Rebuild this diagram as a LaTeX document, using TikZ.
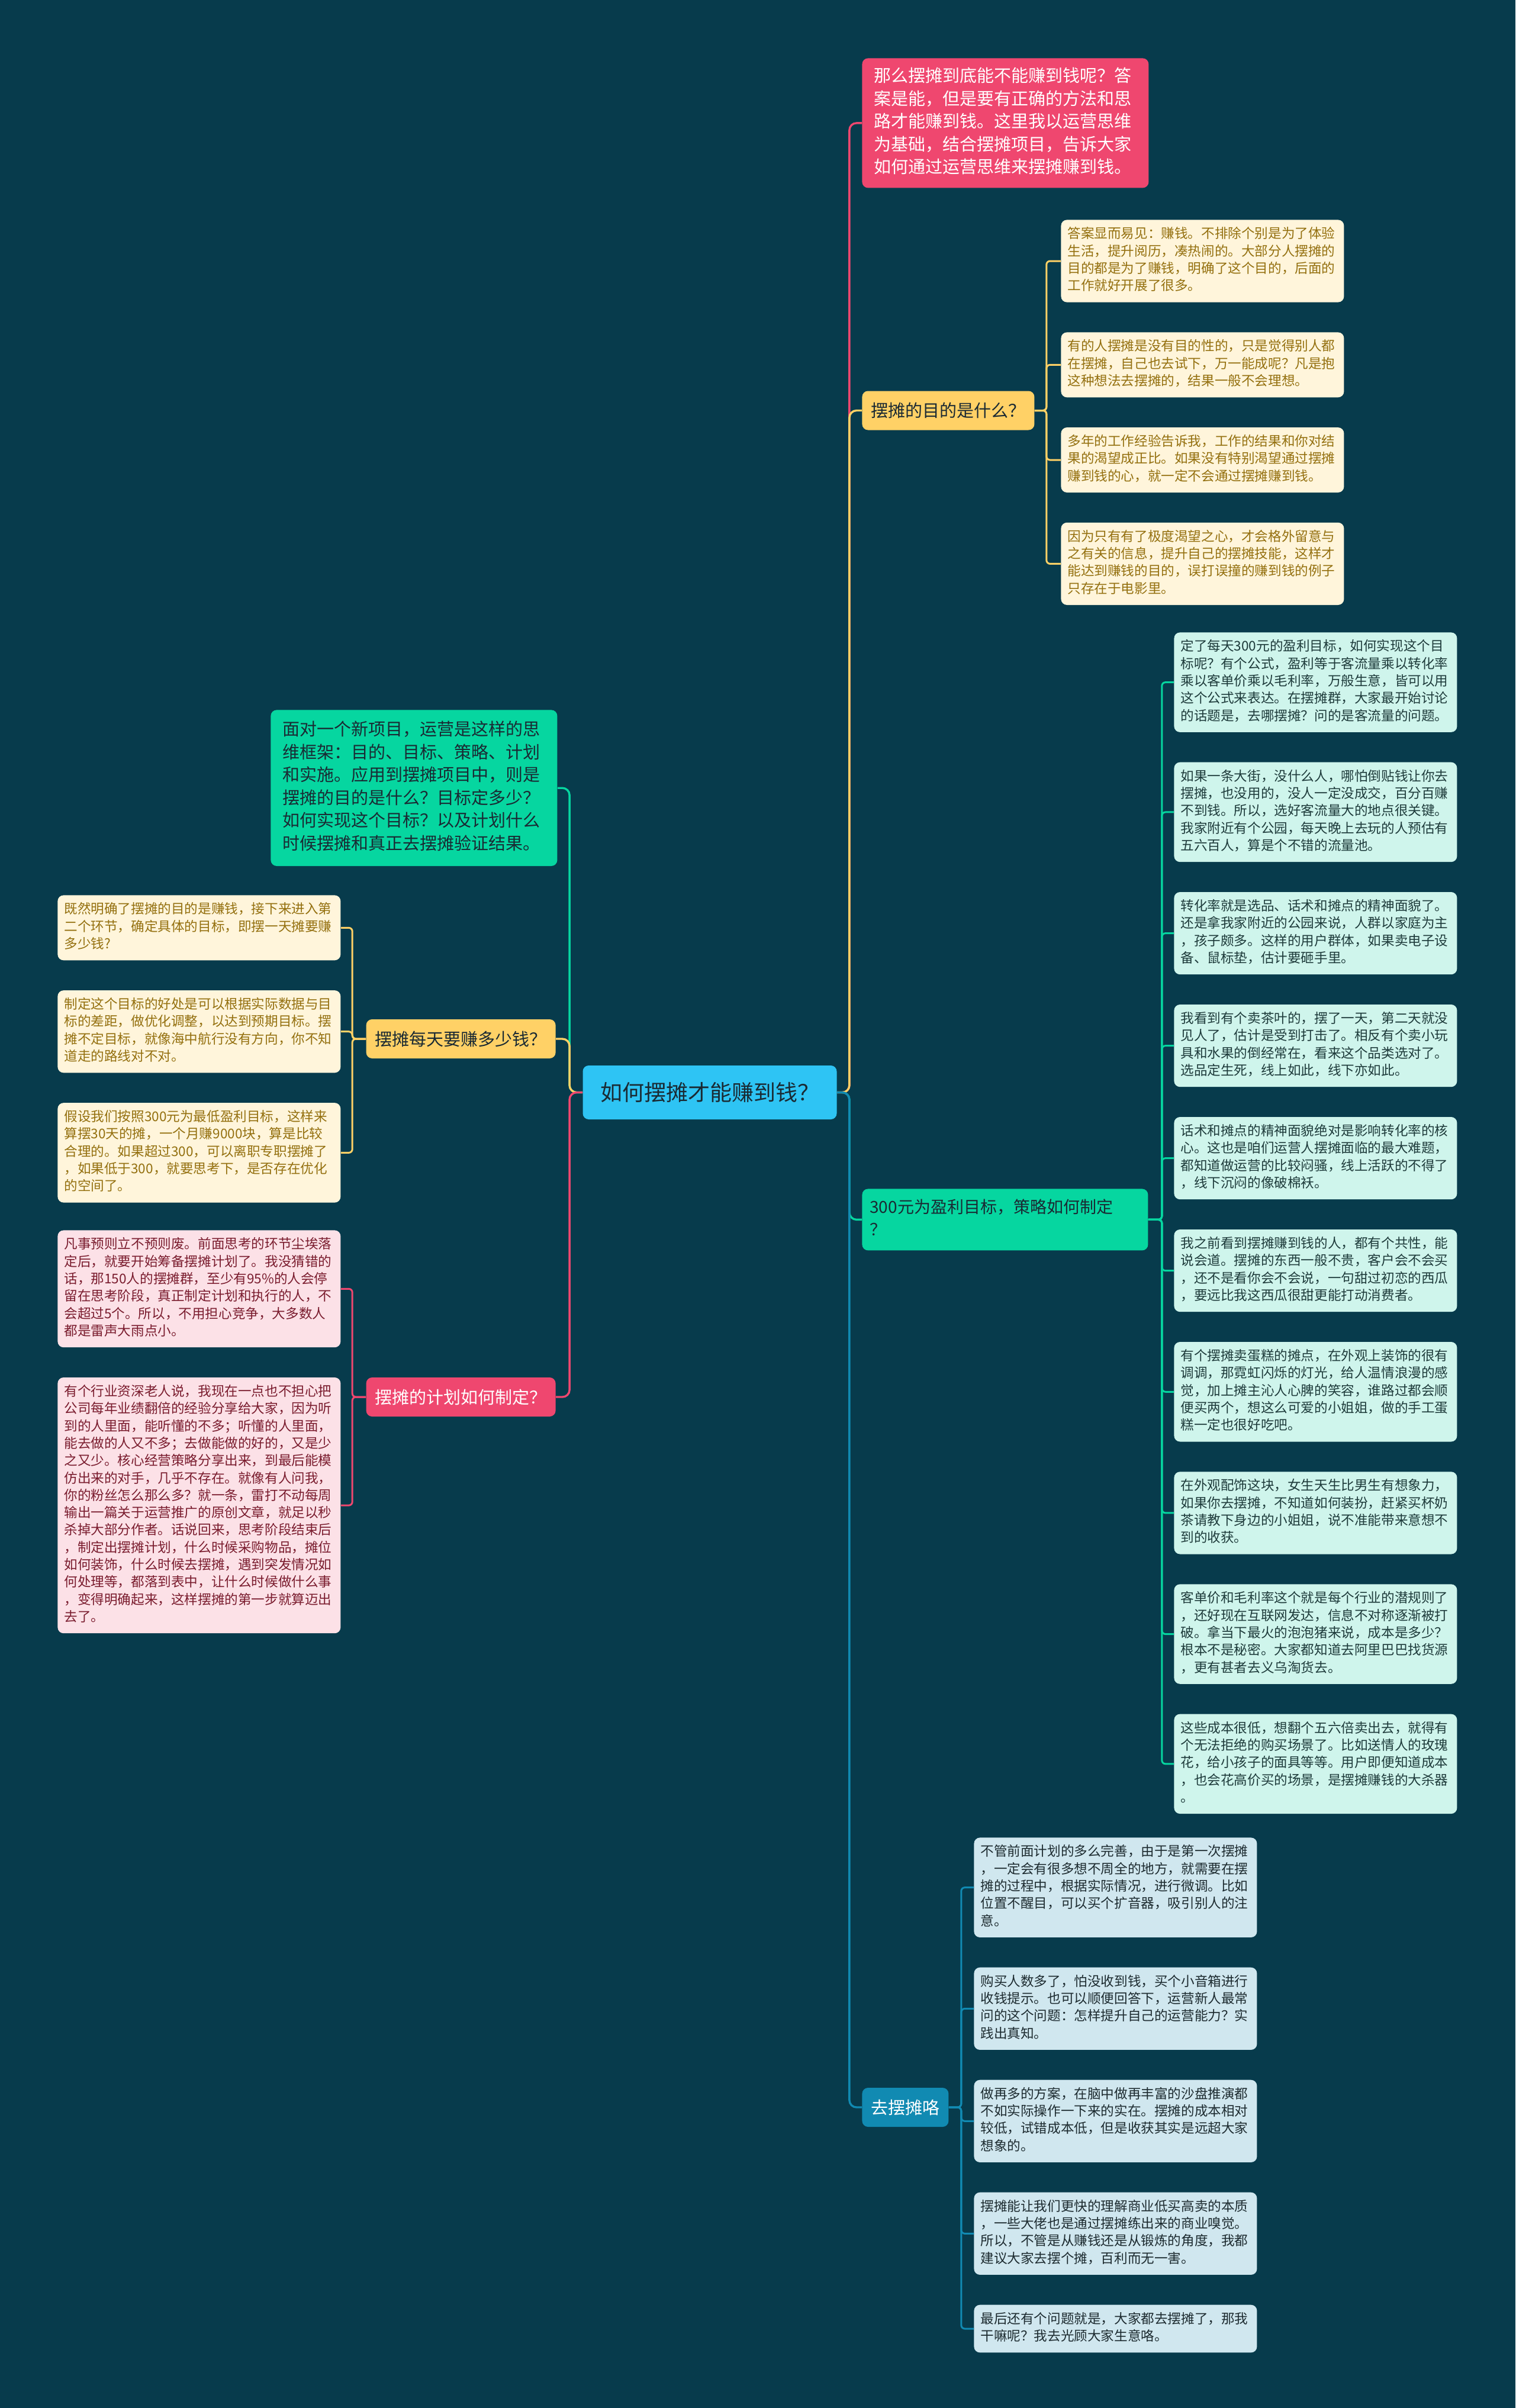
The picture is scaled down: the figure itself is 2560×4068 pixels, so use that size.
\documentclass[tikz,border=0pt]{standalone}
\usepackage{fontspec}
\newfontfamily\cjk{Noto Sans CJK SC}
\usepackage{tikz}
\usetikzlibrary{positioning}

\definecolor{bgc}{HTML}{073B4C}
\definecolor{hubc}{HTML}{2EC4F4}
\definecolor{redc}{HTML}{EF476F}
\definecolor{yelc}{HTML}{FFD166}
\definecolor{grnc}{HTML}{06D6A0}
\definecolor{bluc}{HTML}{118AB2}
\definecolor{yleaf}{HTML}{FFF5DB}
\definecolor{ytext}{HTML}{94700F}
\definecolor{pleaf}{HTML}{FCE1E7}
\definecolor{ptext}{HTML}{7A1C2E}
\definecolor{mleaf}{HTML}{CFF5EC}
\definecolor{mtext}{HTML}{1E3B3B}
\definecolor{bleaf}{HTML}{D0E7EF}
\definecolor{btext}{HTML}{1D2B30}
\definecolor{darktext}{HTML}{1A2A33}

\begin{document}
\begin{tikzpicture}[
  x=0.5pt, y=-0.5pt,
  node distance=25pt,
  hub/.style={fill=hubc, rounded corners=5pt, text=darktext, font=\cjk\fontsize{18.5}{22}\selectfont, minimum width=214.5pt, minimum height=45.5pt},
  topic/.style={rounded corners=5pt, inner xsep=7.5pt, minimum height=33pt, font=\cjk\fontsize{14.5}{19.3}\selectfont},
  memo/.style={rounded corners=5pt, align=left, inner xsep=10pt, inner ysep=6.5pt, text width=222pt, font=\cjk\fontsize{14.5}{19.3}\selectfont, execute at begin node=\strut, execute at end node=\strut},
  leaf/.style={rounded corners=5pt, align=left, inner xsep=5.5pt, inner ysep=5.5pt, text width=228pt, font=\cjk\fontsize{11.3}{14.65}\selectfont, execute at begin node=\strut, execute at end node=\strut},
  ynote/.style={leaf, fill=yleaf, text=ytext},
  pnote/.style={leaf, fill=pleaf, text=ptext},
  mnote/.style={leaf, fill=mleaf, text=mtext},
  bnote/.style={leaf, fill=bleaf, text=btext},
  trunk/.style={line width=1.7pt, rounded corners=6pt},
  twig/.style={line width=1.5pt, rounded corners=3pt},
]

% Background
\fill[bgc] (0,0) rectangle (2560,4068);
\useasboundingbox (0,0) rectangle (2560,4068);

% Root
\node[hub] (root) at (1199,1845.5) {如何摆摊才能赚到钱？};

% Right topics
\node[memo, fill=redc, text=white, anchor=north west] (r0) at (1456,98) {那么摆摊到底能不能赚到钱呢？答\\案是能，但是要有正确的方法和思\\路才能赚到钱。这里我以运营思维\\为基础，结合摆摊项目，告诉大家\\如何通过运营思维来摆摊赚到钱。};
\node[topic, fill=yelc, text=darktext, anchor=west] (yq) at (1456,693.5) {摆摊的目的是什么？};
\node[memo, fill=grnc, text=darktext, font=\cjk\fontsize{14}{19}\selectfont, text width=228.5pt, inner xsep=6.5pt, inner ysep=7pt, anchor=north west] (g3) at (1456,2008) {300元为盈利目标，策略如何制定\\？};
\node[topic, fill=bluc, text=white, anchor=west] (bq) at (1456,3560) {去摆摊咯};

% Left topics
\node[memo, fill=grnc, text=darktext, inner ysep=8pt, anchor=north west] (gl) at (457,1199) {面对一个新项目，运营是这样的思\\维框架：目的、目标、策略、计划\\和实施。应用到摆摊项目中，则是\\摆摊的目的是什么？目标定多少？\\如何实现这个目标？以及计划什么\\时候摆摊和真正去摆摊验证结果。};
\node[topic, fill=yelc, text=darktext, anchor=east] (yl) at (939,1755) {摆摊每天要赚多少钱？};
\node[topic, fill=redc, text=white, anchor=east] (rl) at (939,2360) {摆摊的计划如何制定？};

% Purpose leaves
\node[ynote, anchor=north west] (y1) at (1792,371) {答案显而易见：赚钱。不排除个别是为了体验\\生活，提升阅历，凑热闹的。大部分人摆摊的\\目的都是为了赚钱，明确了这个目的，后面的\\工作就好开展了很多。};
\node[ynote, below=of y1] (y2) {有的人摆摊是没有目的性的，只是觉得别人都\\在摆摊，自己也去试下，万一能成呢？凡是抱\\这种想法去摆摊的，结果一般不会理想。};
\node[ynote, below=of y2] (y3) {多年的工作经验告诉我，工作的结果和你对结\\果的渴望成正比。如果没有特别渴望通过摆摊\\赚到钱的心，就一定不会通过摆摊赚到钱。};
\node[ynote, below=of y3] (y4) {因为只有有了极度渴望之心，才会格外留意与\\之有关的信息，提升自己的摆摊技能，这样才\\能达到赚钱的目的，误打误撞的赚到钱的例子\\只存在于电影里。};

% Daily target leaves
\node[ynote, anchor=north west] (a1) at (97,1512) {既然明确了摆摊的目的是赚钱，接下来进入第\\二个环节，确定具体的目标，即摆一天摊要赚\\多少钱?};
\node[ynote, below=of a1] (a2) {制定这个目标的好处是可以根据实际数据与目\\标的差距，做优化调整，以达到预期目标。摆\\摊不定目标，就像海中航行没有方向，你不知\\道走的路线对不对。};
\node[ynote, below=of a2] (a3) {假设我们按照300元为最低盈利目标，这样来\\算摆30天的摊，一个月赚9000块，算是比较\\合理的。如果超过300，可以离职专职摆摊了\\，如果低于300，就要思考下，是否存在优化\\的空间了。};

% Plan leaves
\node[pnote, anchor=north west] (b1) at (97,2078) {凡事预则立不预则废。前面思考的环节尘埃落\\定后，就要开始筹备摆摊计划了。我没猜错的\\话，那150人的摆摊群，至少有95\%的人会停\\留在思考阶段，真正制定计划和执行的人，不\\会超过5个。所以，不用担心竞争，大多数人\\都是雷声大雨点小。};
\node[pnote, below=of b1] (b2) {有个行业资深老人说，我现在一点也不担心把\\公司每年业绩翻倍的经验分享给大家，因为听\\到的人里面，能听懂的不多；听懂的人里面，\\能去做的人又不多；去做能做的好的，又是少\\之又少。核心经营策略分享出来，到最后能模\\仿出来的对手，几乎不存在。就像有人问我，\\你的粉丝怎么那么多？就一条，雷打不动每周\\输出一篇关于运营推广的原创文章，就足以秒\\杀掉大部分作者。话说回来，思考阶段结束后\\，制定出摆摊计划，什么时候采购物品，摊位\\如何装饰，什么时候去摆摊，遇到突发情况如\\何处理等，都落到表中，让什么时候做什么事\\，变得明确起来，这样摆摊的第一步就算迈出\\去了。};

% Strategy leaves
\node[mnote, anchor=north west] (c1) at (1983,1068) {定了每天300元的盈利目标，如何实现这个目\\标呢？有个公式，盈利等于客流量乘以转化率\\乘以客单价乘以毛利率，万般生意，皆可以用\\这个公式来表达。在摆摊群，大家最开始讨论\\的话题是，去哪摆摊？问的是客流量的问题。};
\node[mnote, below=of c1] (c2) {如果一条大街，没什么人，哪怕倒贴钱让你去\\摆摊，也没用的，没人一定没成交，百分百赚\\不到钱。所以，选好客流量大的地点很关键。\\我家附近有个公园，每天晚上去玩的人预估有\\五六百人，算是个不错的流量池。};
\node[mnote, below=of c2] (c3) {转化率就是选品、话术和摊点的精神面貌了。\\还是拿我家附近的公园来说，人群以家庭为主\\，孩子颇多。这样的用户群体，如果卖电子设\\备、鼠标垫，估计要砸手里。};
\node[mnote, below=of c3] (c4) {我看到有个卖茶叶的，摆了一天，第二天就没\\见人了，估计是受到打击了。相反有个卖小玩\\具和水果的倒经常在，看来这个品类选对了。\\选品定生死，线上如此，线下亦如此。};
\node[mnote, below=of c4] (c5) {话术和摊点的精神面貌绝对是影响转化率的核\\心。这也是咱们运营人摆摊面临的最大难题，\\都知道做运营的比较闷骚，线上活跃的不得了\\，线下沉闷的像破棉袄。};
\node[mnote, below=of c5] (c6) {我之前看到摆摊赚到钱的人，都有个共性，能\\说会道。摆摊的东西一般不贵，客户会不会买\\，还不是看你会不会说，一句甜过初恋的西瓜\\，要远比我这西瓜很甜更能打动消费者。};
\node[mnote, below=of c6] (c7) {有个摆摊卖蛋糕的摊点，在外观上装饰的很有\\调调，那霓虹闪烁的灯光，给人温情浪漫的感\\觉，加上摊主沁人心脾的笑容，谁路过都会顺\\便买两个，想这么可爱的小姐姐，做的手工蛋\\糕一定也很好吃吧。};
\node[mnote, below=of c7] (c8) {在外观配饰这块，女生天生比男生有想象力，\\如果你去摆摊，不知道如何装扮，赶紧买杯奶\\茶请教下身边的小姐姐，说不准能带来意想不\\到的收获。};
\node[mnote, below=of c8] (c9) {客单价和毛利率这个就是每个行业的潜规则了\\，还好现在互联网发达，信息不对称逐渐被打\\破。拿当下最火的泡泡猪来说，成本是多少？\\根本不是秘密。大家都知道去阿里巴巴找货源\\，更有甚者去义乌淘货去。};
\node[mnote, below=of c9] (c10) {这些成本很低，想翻个五六倍卖出去，就得有\\个无法拒绝的购买场景了。比如送情人的玫瑰\\花，给小孩子的面具等等。用户即便知道成本\\，也会花高价买的场景，是摆摊赚钱的大杀器\\。};

% Go leaves
\node[bnote, anchor=north west] (d1) at (1645,3104) {不管前面计划的多么完善，由于是第一次摆摊\\，一定会有很多想不周全的地方，就需要在摆\\摊的过程中，根据实际情况，进行微调。比如\\位置不醒目，可以买个扩音器，吸引别人的注\\意。};
\node[bnote, below=of d1] (d2) {购买人数多了，怕没收到钱，买个小音箱进行\\收钱提示。也可以顺便回答下，运营新人最常\\问的这个问题：怎样提升自己的运营能力？实\\践出真知。};
\node[bnote, below=of d2] (d3) {做再多的方案，在脑中做再丰富的沙盘推演都\\不如实际操作一下来的实在。摆摊的成本相对\\较低，试错成本低，但是收获其实是远超大家\\想象的。};
\node[bnote, below=of d3] (d4) {摆摊能让我们更快的理解商业低买高卖的本质\\，一些大佬也是通过摆摊练出来的商业嗅觉。\\所以，不管是从赚钱还是从锻炼的角度，我都\\建议大家去摆个摊，百利而无一害。};
\node[bnote, below=of d4] (d5) {最后还有个问题就是，大家都去摆摊了，那我\\干嘛呢？我去光顾大家生意咯。};

% Root -> right topics
\draw[trunk, redc] (root.east) -- ++(10.5pt,0) |- (r0.west);
\draw[trunk, yelc] (root.east) -- ++(10.5pt,0) |- (yq.west);
\draw[trunk, grnc] (root.east) -- ++(10.5pt,0) |- (g3.west);
\draw[trunk, bluc] (root.east) -- ++(10.5pt,0) |- (bq.west);

% Root -> left topics
\draw[trunk, grnc] (root.west) -- ++(-11pt,0) |- (gl.east);
\draw[trunk, yelc] (root.west) -- ++(-11pt,0) |- (yl.east);
\draw[trunk, redc] (root.west) -- ++(-11pt,0) |- (rl.east);

% Topic -> leaves
\draw[twig, yelc] (yq.east) -- ++(10pt,0) |- (y1.west);
\draw[twig, yelc] (yq.east) -- ++(10pt,0) |- (y2.west);
\draw[twig, yelc] (yq.east) -- ++(10pt,0) |- (y3.west);
\draw[twig, yelc] (yq.east) -- ++(10pt,0) |- (y4.west);

\draw[twig, yelc] (yl.west) -- ++(-11.5pt,0) |- (a1.east);
\draw[twig, yelc] (yl.west) -- ++(-11.5pt,0) |- (a2.east);
\draw[twig, yelc] (yl.west) -- ++(-11.5pt,0) |- (a3.east);

\draw[twig, redc] (rl.west) -- ++(-11.5pt,0) |- (b1.east);
\draw[twig, redc] (rl.west) -- ++(-11.5pt,0) |- (b2.east);

\draw[twig, grnc] (g3.east) -- ++(11.5pt,0) |- (c1.west);
\draw[twig, grnc] (g3.east) -- ++(11.5pt,0) |- (c2.west);
\draw[twig, grnc] (g3.east) -- ++(11.5pt,0) |- (c3.west);
\draw[twig, grnc] (g3.east) -- ++(11.5pt,0) |- (c4.west);
\draw[twig, grnc] (g3.east) -- ++(11.5pt,0) |- (c5.west);
\draw[twig, grnc] (g3.east) -- ++(11.5pt,0) |- (c6.west);
\draw[twig, grnc] (g3.east) -- ++(11.5pt,0) |- (c7.west);
\draw[twig, grnc] (g3.east) -- ++(11.5pt,0) |- (c8.west);
\draw[twig, grnc] (g3.east) -- ++(11.5pt,0) |- (c9.west);
\draw[twig, grnc] (g3.east) -- ++(11.5pt,0) |- (c10.west);

\draw[twig, bluc] (bq.east) -- ++(10.5pt,0) |- (d1.west);
\draw[twig, bluc] (bq.east) -- ++(10.5pt,0) |- (d2.west);
\draw[twig, bluc] (bq.east) -- ++(10.5pt,0) |- (d3.west);
\draw[twig, bluc] (bq.east) -- ++(10.5pt,0) |- (d4.west);
\draw[twig, bluc] (bq.east) -- ++(10.5pt,0) |- (d5.west);

\end{tikzpicture}
\end{document}
